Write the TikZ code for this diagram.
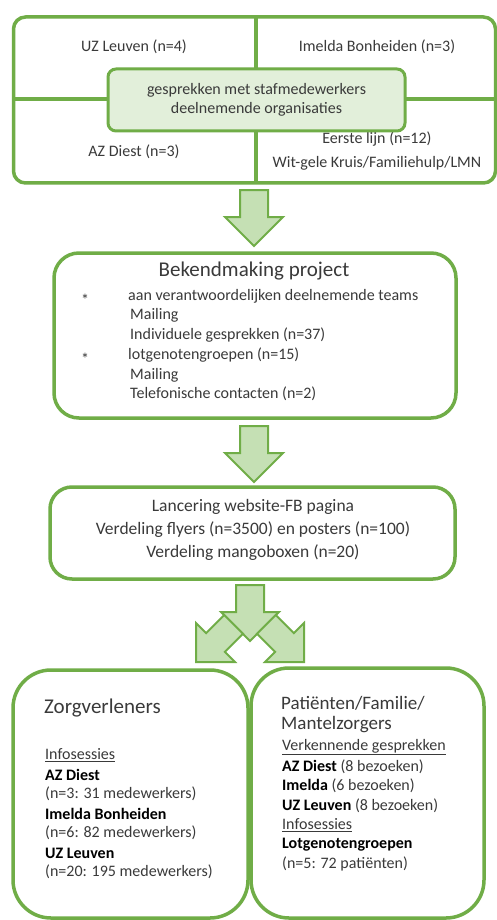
\documentclass[tikz,border=0pt]{standalone}
\usepackage{fontspec}
\setmainfont{Carlito}
\definecolor{grn}{HTML}{70AD47}
\definecolor{lgrn}{HTML}{C5E0B4}
\definecolor{pgrn}{HTML}{E2EFDA}
\definecolor{tg}{HTML}{3A3A3A}
\begin{document}
\begin{tikzpicture}[x=1pt,y=-1pt,
  frame/.style={draw=grn, line width=3.5pt, inner sep=0pt},
  blockarrow/.style={fill=lgrn, draw=grn, line width=2pt, line join=miter},
  txt/.style={text=tg, inner sep=0pt, font=\fontsize{16}{19}\selectfont},
  ltxt/.style={txt, anchor=west},
  btxt/.style={text=black, inner sep=0pt, anchor=west, font=\fontsize{16}{19}\selectfont\bfseries},
  big/.style={text=tg, inner sep=0pt, font=\fontsize{21}{24}\selectfont},
  mid/.style={text=tg, inner sep=0pt, font=\fontsize{17.5}{20}\selectfont},
  barrow/.pic={\path[blockarrow] (0,0) -- (29,-29) -- (14,-29) -- (14,-56) -- (-14,-56) -- (-14,-29) -- (-29,-29) -- cycle;}
]
\useasboundingbox (0,0) rectangle (497,920);
\fill[white] (0,0) rectangle (497,920);

% top box
\node[frame, rounded corners=12pt, minimum width=482pt, minimum height=166pt] (top) at (254.5,100) {};
\draw[grn, line width=3.5pt] (256,17) -- (256,183);
\draw[grn, line width=3.5pt] (13,99) -- (495,99);
\node[txt] (uzl) at (134,47) {UZ Leuven (n=4)};
\node[txt] (imb) at (377,47) {Imelda Bonheiden (n=3)};
\node[txt] (azd) at (134,152) {AZ Diest (n=3)};
\node[txt] (eel) at (377,139) {Eerste lijn (n=12)};
\node[txt] (wgk) at (377,163) {Wit-gele Kruis/Familiehulp/LMN};
\node[draw=grn, fill=pgrn, line width=3pt, rounded corners=8pt, minimum width=297pt, minimum height=62pt,
      text=tg, align=center, inner sep=0pt, font=\fontsize{16}{19}\selectfont] (center) at (256.5,100)
      {gesprekken met stafmedewerkers\\deelnemende organisaties};

% arrow 1
\pic at (254,246) {barrow};

% box 2
\node[frame, rounded corners=25pt, minimum width=402pt, minimum height=165pt] (bek) at (255,335.5) {};
\node[big] (bekt) at (254,271) {Bekendmaking project};
\node[ltxt] (s1) at (81,300) {*};
\node[ltxt] (b1) at (128,296) {aan verantwoordelijken deelnemende teams};
\node[ltxt] (b2) at (130,315) {Mailing};
\node[ltxt] (b3) at (130,335) {Individuele gesprekken (n=37)};
\node[ltxt] (s2) at (81,359) {*};
\node[ltxt] (b4) at (128,355) {lotgenotengroepen (n=15)};
\node[ltxt] (b5) at (130,375) {Mailing};
\node[ltxt] (b6) at (130,394) {Telefonische contacten (n=2)};

% arrow 2
\pic at (254,482) {barrow};

% box 3
\node[frame, rounded corners=22pt, minimum width=405pt, minimum height=92pt] (lan) at (252.5,533) {};
\node[mid] (l1) at (253,507) {Lancering website-FB pagina};
\node[mid] (l2) at (253,530) {Verdeling flyers (n=3500) en posters (n=100)};
\node[mid] (l3) at (253,553) {Verdeling mangoboxen (n=20)};

% arrows 3
\pic at (250,641) {barrow};
\pic[rotate=-45, scale=0.95] at (196,662) {barrow};
\pic[rotate=45, scale=0.95] at (304,662) {barrow};

% bottom left
\node[frame, rounded corners=38pt, minimum width=235pt, minimum height=248pt] (zorg) at (130.5,794) {};
\node[big, anchor=west] (zt) at (44,708) {Zorgverleners};
\node[ltxt] (z1) at (45,755) {\underline{Infosessies}};
\node[btxt] (z2) at (45,775) {AZ Diest};
\node[ltxt] (z3) at (45,794) {(n=3: 31 medewerkers)};
\node[btxt] (z4) at (45,814) {Imelda Bonheiden};
\node[ltxt] (z5) at (45,833) {(n=6: 82 medewerkers)};
\node[btxt] (z6) at (45,853) {UZ Leuven};
\node[ltxt] (z7) at (45,872) {(n=20: 195 medewerkers)};

% bottom right
\node[frame, rounded corners=38pt, minimum width=233pt, minimum height=250pt] (pat) at (367.5,793) {};
\node[text=tg, inner sep=0pt, anchor=west, font=\fontsize{19}{22}\selectfont] (pt1) at (281,703) {Patiënten/Familie/};
\node[text=tg, inner sep=0pt, anchor=west, font=\fontsize{19}{22}\selectfont] (pt2) at (281,725) {Mantelzorgers};
\node[ltxt] (p1) at (282,747) {\underline{Verkennende gesprekken}};
\node[ltxt] (p2) at (282,767) {\textcolor{black}{\bfseries AZ Diest} (8 bezoeken)};
\node[ltxt] (p3) at (282,786) {\textcolor{black}{\bfseries Imelda} (6 bezoeken)};
\node[ltxt] (p4) at (282,806) {\textcolor{black}{\bfseries UZ Leuven} (8 bezoeken)};
\node[ltxt] (p5) at (282,825) {\underline{Infosessies}};
\node[btxt] (p6) at (282,845) {Lotgenotengroepen};
\node[ltxt] (p7) at (282,864) {(n=5: 72 patiënten)};
\end{tikzpicture}
\end{document}
